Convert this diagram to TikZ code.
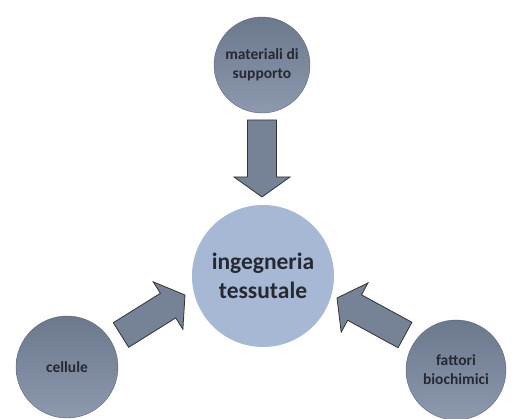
\documentclass[tikz,border=0pt]{standalone}
\usepackage{fontspec}
\setmainfont{Carlito}
\usetikzlibrary{calc}

\definecolor{disctop}{RGB}{108,120,140}
\definecolor{discmid}{RGB}{132,146,167}
\definecolor{discbot}{RGB}{140,153,174}
\definecolor{corefill}{RGB}{166,184,212}
\definecolor{arrowfill}{RGB}{118,130,150}
\definecolor{inktext}{RGB}{38,40,50}

\tikzset{
  disc/.style={circle, minimum size=#1, inner sep=0pt, align=center,
    top color=disctop, middle color=discmid, bottom color=discbot,
    draw=disctop!85!black, line width=0.4pt, text=inktext,
    font=\bfseries\fontsize{15.5}{19}\selectfont},
  core/.style={circle, minimum size=142pt, inner sep=0pt, align=center,
    fill=corefill, text=inktext,
    font=\bfseries\fontsize{23.5}{29}\selectfont},
  fatarrow/.style={draw=black!80, line width=0.8pt, fill=arrowfill, line join=miter},
}

% block arrow from tail #1 to tip #2
\newcommand{\fatarrow}[2]{%
  \coordinate (#1-neck) at ($(#2)!20pt!(#1)$);
  \draw[fatarrow] ($(#1)!14.5pt!90:(#2)$) -- ($(#1-neck)!14.5pt!90:(#2)$)
    -- ($(#1-neck)!28pt!90:(#2)$) -- (#2) -- ($(#1-neck)!28pt!-90:(#2)$)
    -- ($(#1-neck)!14.5pt!-90:(#2)$) -- ($(#1)!14.5pt!-90:(#2)$) -- cycle;
}

\begin{document}
\begin{tikzpicture}[x=1pt, y=-1pt]
  \useasboundingbox (0,0) rectangle (515,419);

  % --- 1. the central disc ---
  \node[core] (ingegneria) at (263,276) {ingegneria\\tessutale};

  % --- 2. the three outer discs ---
  \node[disc=96pt]  (supporto) at (262,65)  {materiali di\\supporto};
  \node[disc=102pt] (cellule)  at (67,367)  {cellule};
  \node[disc=100pt] (fattori)  at (456,370) {fattori\\biochimici};

  % --- 3. ends of the block arrows ---
  \coordinate (tailtop)   at (262,120);
  \coordinate (tiptop)    at (262,197);
  \coordinate (tailleft)  at (121,335);
  \coordinate (tipleft)   at (185,295);
  \coordinate (tailright) at (405,335);
  \coordinate (tipright)  at (337,298);

  % --- 4. block arrows pointing at the centre ---
  \fatarrow{tailtop}{tiptop}
  \fatarrow{tailleft}{tipleft}
  \fatarrow{tailright}{tipright}

\end{tikzpicture}
\end{document}
